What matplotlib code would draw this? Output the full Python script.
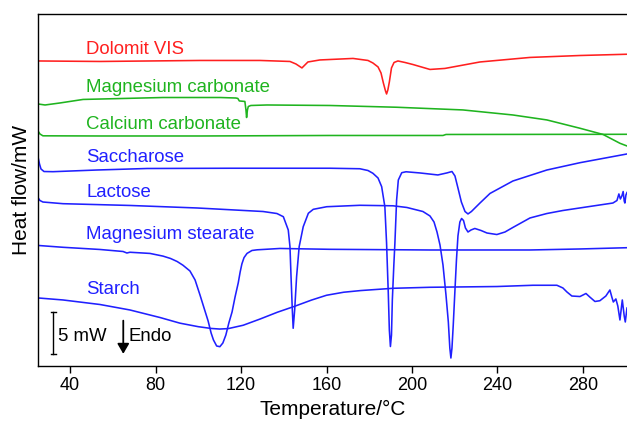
import matplotlib
matplotlib.use("Agg")
import matplotlib.pyplot as plt

plt.rcParams["font.family"] = ["Liberation Sans", "DejaVu Sans"]

# DSC traces: temperature (°C) and heat flow (mW, vertically offset per sample)
dolomit_t = [25.0, 54.0, 77.4, 100.8, 128.9, 142.9, 145.7, 148.5, 151.3, 156.9, 172.4,
             179.4, 181.7, 184.1, 185.5, 186.6, 187.6, 188.1, 188.7, 189.4, 190.4, 191.6,
             193.4, 196.7, 200.4, 208.4, 215.4, 231.8, 255.2, 278.6, 300.6]
dolomit_q = [36.31, 36.25, 36.31, 36.37, 36.37, 36.25, 35.95, 35.48, 36.19, 36.43, 36.61,
             36.37, 36.07, 35.60, 34.88, 33.69, 32.74, 32.38, 32.86, 33.81, 35.48, 36.13,
             36.31, 36.13, 35.89, 35.30, 35.42, 36.19, 36.73, 36.96, 37.11]

mgco3_t = [25.0, 28.3, 35.3, 46.1, 83.5, 110.1, 117.6, 118.5, 119.2, 121.8, 122.3, 122.6,
           123.0, 123.4, 124.6, 132.1, 161.6, 192.9, 223.8, 247.2, 263.1, 278.6, 289.4,
           297.3, 300.6]
mgco3_q = [31.19, 31.07, 31.31, 31.73, 31.96, 31.96, 31.90, 31.85, 31.55, 31.49, 30.48,
           29.58, 30.48, 30.89, 31.01, 31.07, 31.01, 30.80, 30.48, 29.88, 29.29, 28.30,
           27.56, 26.51, 26.19]

caco3_t = [25.0, 25.9, 27.3, 54.0, 100.8, 161.6, 214.5, 215.9, 300.6]
caco3_q = [27.98, 27.62, 27.40, 27.38, 27.38, 27.44, 27.44, 27.56, 27.58]

sacch_t = [25.1, 25.7, 26.4, 27.8, 32.0, 52.6, 76.0, 114.8, 161.6, 175.6, 179.4, 181.7,
           184.1, 185.8, 187.3, 188.1, 188.9, 189.4, 189.9, 190.4, 190.8, 191.5, 192.0,
           192.8, 193.6, 195.2, 197.2, 203.7, 212.1, 216.3, 218.7, 220.1, 221.5, 223.1,
           224.8, 226.2, 227.8, 231.8, 236.5, 247.2, 263.1, 278.6, 300.6]
sacch_q = [24.76, 24.05, 23.45, 23.15, 23.13, 23.33, 23.51, 23.54, 23.54, 23.48, 23.27,
           22.94, 22.38, 21.35, 18.96, 14.64, 8.69, 4.29, 2.32, 3.69, 7.86, 12.02, 14.64,
           19.76, 22.14, 23.01, 23.12, 22.98, 22.74, 22.98, 23.15, 22.62, 21.19, 19.52,
           18.39, 18.10, 18.39, 19.40, 20.54, 22.02, 23.33, 24.20, 25.24]

lact_t = [25.1, 25.9, 27.3, 36.7, 68.0, 99.4, 130.3, 136.8, 139.8, 142.1, 142.9, 143.4,
          144.0, 144.4, 145.1, 146.0, 147.2, 149.1, 151.5, 153.8, 160.1, 175.6, 191.1,
          197.6, 205.1, 208.4, 210.3, 211.7, 213.1, 214.5, 215.9, 217.0, 217.7, 218.2,
          218.7, 219.3, 220.1, 220.8, 221.5, 222.4, 223.2, 224.1, 225.0, 226.2, 227.6,
          229.4, 232.3, 235.1, 239.7, 243.5, 247.2, 255.2, 263.1, 270.6, 283.2, 294.0,
          295.9, 296.8, 297.5, 298.2, 298.8, 299.3, 299.6, 300.1, 300.6]
lact_q = [20.00, 19.70, 19.52, 19.32, 19.11, 18.81, 18.39, 18.15, 17.77, 16.19, 14.20,
          10.63, 6.67, 4.49, 6.67, 10.63, 14.20, 16.58, 18.18, 18.65, 18.96, 19.13, 19.07,
          18.87, 18.39, 17.86, 17.14, 15.95, 14.40, 12.02, 8.45, 5.24, 2.14, 0.95, 2.14,
          4.88, 9.05, 12.62, 15.48, 17.14, 17.56, 17.32, 16.43, 15.95, 16.19, 16.37, 16.13,
          15.83, 15.65, 15.95, 16.49, 17.62, 18.15, 18.51, 18.99, 19.40, 19.70, 20.48,
          19.88, 20.24, 20.77, 19.64, 19.40, 20.36, 20.65]

stear_t = [25.0, 36.7, 54.0, 64.8, 66.6, 68.0, 77.4, 83.5, 87.0, 90.1, 92.8, 96.1, 98.5,
           100.8, 102.7, 104.6, 106.0, 107.1, 108.6, 110.1, 111.5, 112.9, 114.3, 115.8,
           117.2, 118.7, 119.6, 120.4, 121.4, 122.8, 125.1, 127.5, 138.2, 161.6, 208.4,
           255.2, 278.6, 300.6]
stear_q = [14.35, 14.13, 13.87, 13.63, 13.45, 13.54, 13.40, 13.08, 12.80, 12.44, 12.00,
           11.31, 10.24, 8.45, 6.90, 5.36, 3.93, 3.10, 2.38, 2.30, 2.74, 3.69, 5.12, 6.43,
           8.21, 9.90, 11.20, 12.15, 12.90, 13.40, 13.75, 13.83, 13.99, 13.89, 13.81,
           13.81, 13.93, 14.08]

starch_t = [25.0, 36.7, 54.0, 68.0, 82.1, 91.4, 100.0, 106.0, 110.0, 114.0, 121.0, 129.0,
            137.0, 145.0, 153.0, 160.0, 168.0, 176.0, 191.1, 208.4, 239.7, 256.6, 267.8,
            270.6, 272.5, 274.8, 278.6, 281.4, 283.2, 285.6, 287.9, 290.7, 292.6, 293.5,
            294.2, 295.4, 296.3, 297.3, 298.4, 299.3, 299.8, 300.6]
starch_q = [8.10, 7.86, 7.32, 6.67, 5.77, 5.10, 4.68, 4.47, 4.40, 4.45, 4.85, 5.60,
            6.40, 7.10, 7.85, 8.42, 8.78, 8.98, 9.25, 9.37, 9.46, 9.61, 9.61, 9.29, 8.81,
            8.33, 8.27, 8.63, 8.21, 7.68, 7.77, 8.33, 9.05, 8.21, 7.62, 7.98, 7.14, 5.48,
            7.86, 5.95, 5.24, 6.90]

labels = ["Dolomit VIS", "Magnesium carbonate", "Calcium carbonate", "Saccharose",
          "Lactose", "Magnesium stearate", "Starch"]
label_q = [37.14, 32.65, 28.18, 24.25, 20.08, 15.08, 8.54]

x_ticks = [40, 80, 120, 160, 200, 240, 280]
scale_bar_mw = 5

RED = "#ff1f1f"
GREEN = "#1fb41f"
BLUE = "#2020ff"

fig = plt.figure(figsize=(6.27, 4.23), dpi=100)
ax = fig.add_axes([38 / 627, 57 / 423, 589 / 627, 352 / 423])

series = [
    (dolomit_t, dolomit_q, RED),
    (mgco3_t, mgco3_q, GREEN),
    (caco3_t, caco3_q, GREEN),
    (sacch_t, sacch_q, BLUE),
    (lact_t, lact_q, BLUE),
    (stear_t, stear_q, BLUE),
    (starch_t, starch_q, BLUE),
]
for t, q, c in series:
    ax.plot(t, q, color=c, lw=1.15, solid_joinstyle="round")

label_colors = [RED, GREEN, GREEN, BLUE, BLUE, BLUE, BLUE]
for text, q, c in zip(labels, label_q, label_colors):
    ax.text(47.5, q, text, color=c, fontsize=13.4, va="baseline", ha="left")

# 5 mW scale bar
bar_x, bar_y0 = 32.2, 1.39
cap = 1.3
ax.plot([bar_x, bar_x], [bar_y0, bar_y0 + scale_bar_mw], color="black", lw=1.0)
ax.plot([bar_x - cap, bar_x + cap], [bar_y0, bar_y0], color="black", lw=1.0)
ax.plot([bar_x - cap, bar_x + cap], [bar_y0 + scale_bar_mw] * 2, color="black", lw=1.0)
ax.text(34.4, 2.98, f"{scale_bar_mw} mW", fontsize=13.4, va="baseline", ha="left")

# endotherm direction arrow
ax.annotate("", xy=(64.9, 1.45), xytext=(64.9, 5.4),
            arrowprops=dict(arrowstyle="-|>,head_width=0.35,head_length=0.6",
                            color="black", lw=1.3, shrinkA=0, shrinkB=0))
ax.text(67.2, 2.98, "Endo", fontsize=13.4, va="baseline", ha="left")

ax.set_xlim(25, 300.6)
ax.set_ylim(0, 41.9)
ax.set_xticks(x_ticks)
ax.set_yticks([])
ax.tick_params(axis="x", direction="out", length=5, width=1.0, labelsize=13, pad=3)
ax.set_xlabel("Temperature/°C", fontsize=15, labelpad=4)
ax.set_ylabel("Heat flow/mW", fontsize=15, labelpad=5)
ax.spines["right"].set_visible(False)
for s in ["left", "top", "bottom"]:
    ax.spines[s].set_linewidth(1.0)

fig.savefig("out.png", dpi=100)
